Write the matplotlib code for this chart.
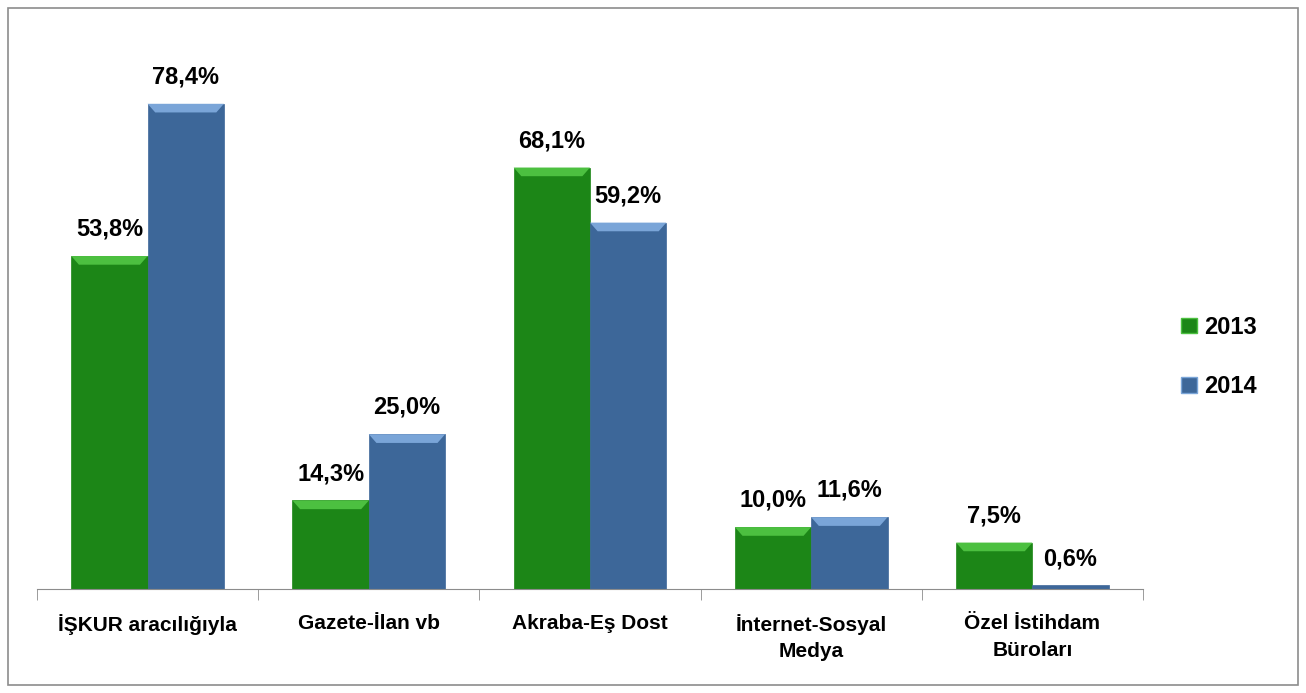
import matplotlib
matplotlib.use("Agg")
import matplotlib.pyplot as plt
from matplotlib.patches import Polygon, Rectangle, Patch
import numpy as np

plt.rcParams["font.family"] = ["Liberation Sans", "DejaVu Sans"]
plt.rcParams["font.weight"] = "bold"

categories = ["İŞKUR aracılığıyla", "Gazete-İlan vb", "Akraba-Eş Dost",
              "İnternet-Sosyal\nMedya", "Özel İstihdam\nBüroları"]
years = ["2013", "2014"]
vals_2013 = [53.8, 14.3, 68.1, 10.0, 7.5]
vals_2014 = [78.4, 25.0, 59.2, 11.6, 0.6]

colors = {"2013": ("#1c8617", "#4cc040"), "2014": ("#3d6799", "#7aa5d8")}


def add_bevel(ax, bars, light):
    # lighter trapezoid on top of each bar
    for b in bars:
        x0, w, h = b.get_x(), b.get_width(), b.get_height()
        if h < 1.5:
            continue
        bh = 1.4
        inset = w * 0.1
        ax.add_patch(Polygon([(x0, h), (x0 + w, h), (x0 + w - inset, h - bh), (x0 + inset, h - bh)],
                             closed=True, facecolor=light, edgecolor="none", zorder=3))


fig = plt.figure(figsize=(13.06, 6.93), dpi=100)
fig.patches.append(Rectangle((8 / 1306, 8 / 693), 1290 / 1306, 677 / 693, transform=fig.transFigure,
                             fill=False, edgecolor="#8c8c8c", linewidth=1.2))
ax = fig.add_axes([37 / 1306, 104 / 693, 1106 / 1306, 557 / 693])

x = np.arange(len(categories))
w = 0.345
for vals, yr, off in [(vals_2013, "2013", -w / 2), (vals_2014, "2014", w / 2)]:
    base, light = colors[yr]
    bars = ax.bar(x + off, vals, w, color=base, edgecolor=base, linewidth=0.5, zorder=2)
    add_bevel(ax, bars, light)
    for xi, v in zip(x + off, vals):
        ax.annotate(f"{v:.1f}%".replace(".", ","), (xi, v), xytext=(0, 11), textcoords="offset points",
                    ha="center", va="bottom", fontsize=17, fontweight="bold", color="black")

ax.set_xlim(-0.5, len(categories) - 0.5)
ax.set_ylim(0, 90)
ax.set_yticks([])
for s in ["top", "right", "left"]:
    ax.spines[s].set_visible(False)
ax.spines["bottom"].set_color("#8c8c8c")
ax.set_xticks(x)
ax.set_xticklabels(categories, fontsize=15, fontweight="bold", linespacing=1.5, va="top")
ax.tick_params(axis="x", which="major", length=0, pad=18)
ax.set_xticks(np.arange(-0.5, len(categories)), minor=True)
ax.tick_params(axis="x", which="minor", length=8, color="#8c8c8c")

handles = [Patch(facecolor=colors[y][0], edgecolor=colors[y][1], label=y) for y in years]
fig.legend(handles=handles, loc="center left", bbox_to_anchor=(1160 / 1306, 1 - 357 / 693),
           frameon=False, prop={"size": 17, "weight": "bold"}, labelspacing=1.55,
           handlelength=0.65, handleheight=0.65, handletextpad=0.3)

fig.savefig("out.png", dpi=100)
